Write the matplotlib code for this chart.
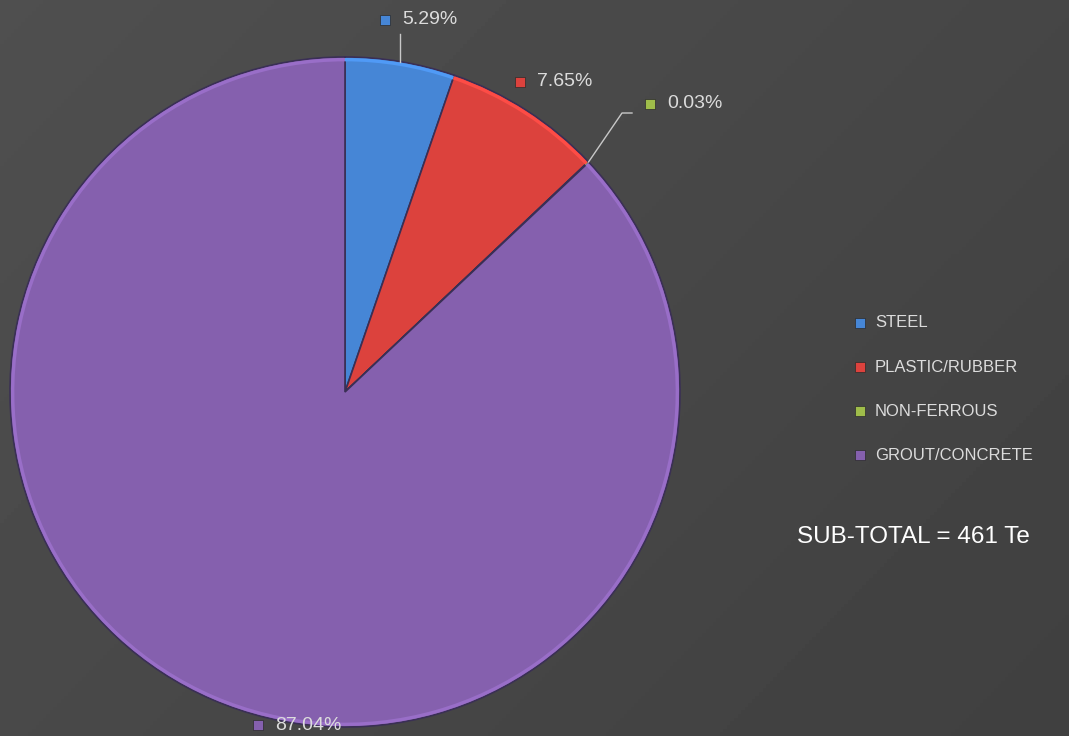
import numpy as np
import matplotlib
matplotlib.use("Agg")
import matplotlib.pyplot as plt

# data
materials = ["STEEL", "PLASTIC/RUBBER", "NON-FERROUS", "GROUT/CONCRETE"]
shares = [5.29, 7.65, 0.03, 87.04]
colors = ["#4686d6", "#dc423d", "#9fbd4a", "#8560ae"]
subtotal_label = "SUB-TOTAL = 461 Te"

W, H = 1069, 736
CX, CY, R = 345, 392, 335   # pie centre / radius in pixels (from top)

plt.rcParams["font.family"] = ["Liberation Sans", "DejaVu Sans"]
fig = plt.figure(figsize=(W / 100, H / 100), dpi=100)

# background gradient
bg = fig.add_axes([0, 0, 1, 1], zorder=0)
yy, xx = np.mgrid[0:1:200j, 0:1:300j]
grad = 0.31 - 0.06 * (0.6 * xx + 0.4 * yy)
bg.imshow(grad, cmap="gray", vmin=0, vmax=1, aspect="auto",
          extent=[0, 1, 0, 1], origin="upper")
bg.axis("off")

# pie
ax = fig.add_axes([(CX - R) / W, (H - CY - R) / H, 2 * R / W, 2 * R / H], zorder=1)
wedges, _ = ax.pie(shares, colors=colors, startangle=90, counterclock=False,
                   radius=1.0,
                   wedgeprops=dict(edgecolor="#3a2f55", linewidth=1.2))
# light rim
rim = [matplotlib.colors.to_hex(np.clip(np.array(matplotlib.colors.to_rgb(c)) * 1.15, 0, 1))
       for c in colors]
ax.pie(shares, colors=rim, startangle=90, counterclock=False, radius=0.997,
       wedgeprops=dict(width=0.01, linewidth=0))
ax.set_xlim(-1, 1)
ax.set_ylim(-1, 1)
ax.set_aspect("equal")
ax.axis("off")


def px(x, y):
    return (x - CX) / R, (CY - y) / R


txt_kw = dict(color="#dcdcdc", fontsize=14, va="center", ha="left", clip_on=False)

# data labels (positions in pixels)
label_pos = [(385, 20), (520, 82), (650, 104), (258, 725)]
for w, v, c, (lx, ly) in zip(wedges, shares, colors, label_pos):
    mx, my = px(lx, ly)
    ax.plot(mx, my, marker="s", ms=7, color=c, mec="#2a2a2a", mew=0.5, clip_on=False)
    tx, ty = px(lx + 17, ly)
    ax.text(tx, ty, f"{v:.2f}%", **txt_kw)

# leader lines
ang = np.deg2rad((wedges[0].theta1 + wedges[0].theta2) / 2)
ex, ey = np.cos(ang), np.sin(ang)
ax.plot([ex, ex], [ey, px(0, 34)[1]], color="#c8c8c8", lw=1, clip_on=False)
ang = np.deg2rad((wedges[2].theta1 + wedges[2].theta2) / 2)
ex, ey = np.cos(ang), np.sin(ang)
p1, p2 = px(622, 113), px(632, 113)
ax.plot([ex, p1[0], p2[0]], [ey, p1[1], p2[1]], color="#c8c8c8", lw=1, clip_on=False)

# legend
for i, (m, c) in enumerate(zip(materials, colors)):
    y = 323 + i * 44
    fig.text(875 / W, 1 - y / H, m, color="#dcdcdc", fontsize=12, va="center")
    fig.add_artist(plt.Line2D([860 / W], [1 - y / H], marker="s", ms=7, color=c,
                              mec="#2a2a2a", mew=0.5, transform=fig.transFigure))

fig.text(797 / W, 1 - 537 / H, subtotal_label, color="white", fontsize=17.5, va="center")

fig.savefig("out.png", dpi=100)
